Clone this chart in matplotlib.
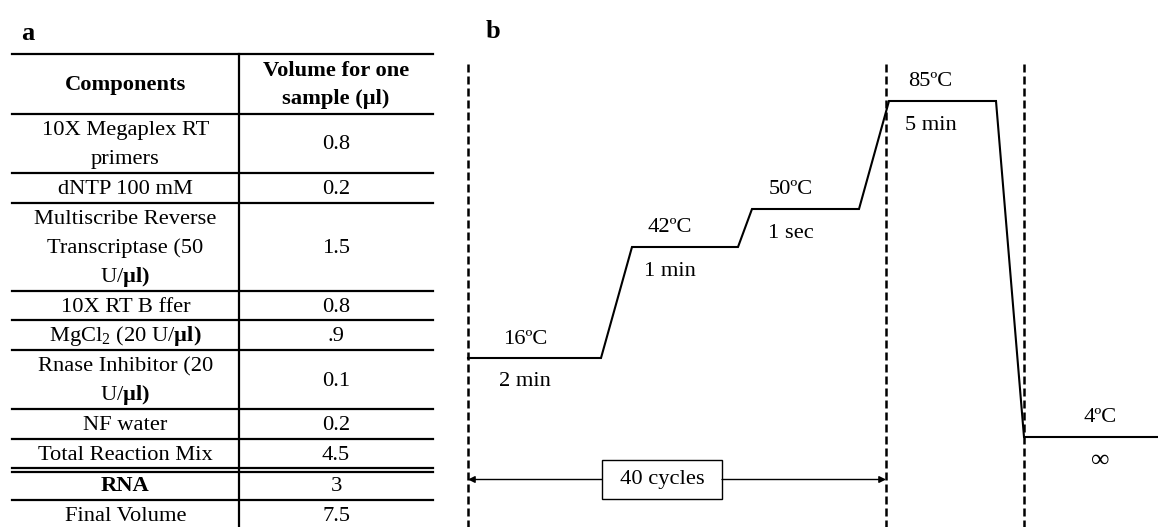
import matplotlib
matplotlib.use("Agg")
import matplotlib.pyplot as plt
from matplotlib.patches import Rectangle

plt.rcParams['font.family'] = ['Liberation Serif', 'DejaVu Serif']
plt.rcParams['mathtext.fontset'] = 'custom'
plt.rcParams['mathtext.rm'] = 'Liberation Serif'
plt.rcParams['mathtext.bf'] = 'Liberation Serif:bold'

# table (panel a)
header = ["Components", "Volume for one\nsample (µl)"]
components = ["10X Megaplex RT\nprimers", "dNTP 100 mM",
              "Multiscribe Reverse\nTranscriptase (50\nU/$\\mathbf{µl)}$",
              "10X RT B ffer", "MgCl$_2$ (20 U/$\\mathbf{µl)}$",
              "Rnase Inhibitor (20\nU/$\\mathbf{µl)}$", "NF water",
              "Total Reaction Mix", "RNA", "Final Volume"]
volumes = ["0.8", "0.2", "1.5", "0.8", ".9", "0.1", "0.2", "4.5", "3", "7.5"]
bold_rows = ["RNA"]

# thermal profile (panel b), schematic positions
temps = ["16ºC", "42ºC", "50ºC", "85ºC", "4ºC"]
times = ["2 min", "1 min", "1 sec", "5 min", "∞"]
hold_start = [468, 632, 752, 889, 1024]
hold_end = [601, 738, 859, 996, 1158]
hold_level = [358, 247, 209, 101, 437]
stage_bounds = [468, 886, 1024]
cycles = "40 cycles"

fig = plt.figure(figsize=(11.58, 5.27), dpi=100)
ax = fig.add_axes([0, 0, 1, 1])
ax.set_xlim(0, 1158)
ax.set_ylim(527, 0)
ax.axis("off")

fs = 16.2
lw = 1.6


def cell(x, yc, label, weight="normal", step=29.0):
    # one text per line so plain and math lines get the same spacing
    lines = label.split("\n")
    n = len(lines)
    for i, line in enumerate(lines):
        yb = yc + (i - (n - 1) / 2) * step + 6
        ax.text(x, yb, line, fontsize=fs, fontweight=weight,
                ha="center", va="baseline")


# ---- table
x0, xm, x1 = 12, 239, 433
top = 54
ax.text(21, 33, "a", fontsize=19, fontweight="bold", ha="left", va="center")
ax.plot([x0, x1], [top, top], color="black", lw=lw)
y = top
h = 60
cell((x0 + xm) / 2, y + h / 2, header[0], "bold")
cell((xm + x1) / 2, y + h / 2, header[1], "bold", step=28)
y += h
ax.plot([x0, x1], [y, y], color="black", lw=lw)
for name, vol in zip(components, volumes):
    n = name.count("\n") + 1
    h = 29.2 * n + 0.5
    if name == "RNA":
        ax.plot([x0, x1], [y + 4, y + 4], color="black", lw=lw)
        y += 2
    wt = "bold" if name in bold_rows else "normal"
    cell((x0 + xm) / 2, y + h / 2, name, wt)
    cell((xm + x1) / 2, y + h / 2, vol)
    y += h
    if name != components[-1]:
        ax.plot([x0, x1], [y, y], color="black", lw=lw)
ax.plot([xm, xm], [top, 527], color="black", lw=lw)

# ---- thermal profile
ax.text(493, 31, "b", fontsize=19, fontweight="bold", ha="center", va="center")
for xb in stage_bounds:
    ax.plot([xb, xb], [64, 527], color="black", lw=1.8, dashes=(3.2, 1.6))

px, py = [], []
for s, e, lv in zip(hold_start, hold_end, hold_level):
    px += [s, e]
    py += [lv, lv]
ax.plot(px, py, color="black", lw=1.5, solid_joinstyle="miter")

label_frac = [0.43, 0.36, 0.36, 0.39, 0.57]
for t, d, s, e, lv, f in zip(temps, times, hold_start, hold_end, hold_level, label_frac):
    xc = s + f * (e - s)
    ax.text(xc, lv - 19, t, fontsize=fs, ha="center", va="center")
    ax.text(xc, lv + 24, d, fontsize=fs * 1.15 if d == "∞" else fs,
            ha="center", va="center")

# cycle bracket
bx0, bx1, by0, by1 = 602, 722, 460, 499
ax.add_patch(Rectangle((bx0, by0), bx1 - bx0, by1 - by0, fill=False,
                       edgecolor="black", lw=1))
ax.text((bx0 + bx1) / 2, (by0 + by1) / 2, cycles, fontsize=fs,
        ha="center", va="center")
ymid = (by0 + by1) / 2
arrow = dict(arrowstyle="-|>", color="black", lw=1, mutation_scale=10,
             shrinkA=0, shrinkB=0)
ax.annotate("", xy=(stage_bounds[0], ymid), xytext=(bx0, ymid), arrowprops=arrow)
ax.annotate("", xy=(stage_bounds[1], ymid), xytext=(bx1, ymid), arrowprops=arrow)

fig.savefig("out.png", dpi=100)
